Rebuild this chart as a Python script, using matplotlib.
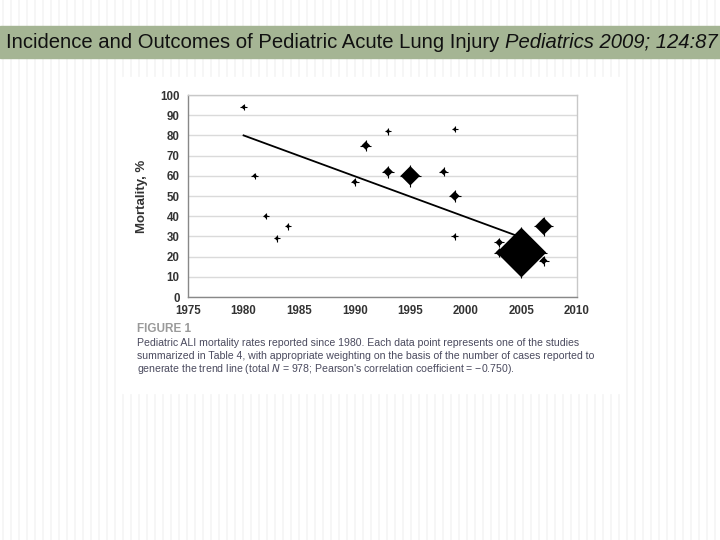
import numpy as np
import matplotlib
matplotlib.use("Agg")
import matplotlib.pyplot as plt

# study year, mortality (%) and estimated number of cases (marker weight)
years = [1980, 1981, 1982, 1983, 1984, 1990, 1991, 1993, 1993, 1995,
         1998, 1999, 1999, 1999, 2003, 2003, 2005, 2007, 2007]
mortality = [94, 60, 40, 29, 35, 57, 75, 82, 62, 60,
             62, 83, 50, 30, 27, 22, 22, 35, 18]
n_cases = [5, 5, 5, 5, 5, 8, 19, 5, 24, 97,
           11, 4, 24, 5, 15, 15, 635, 77, 15]

# weighted trend line
trend_x = [1980, 2004.5]
trend_y = [80, 30.5]

x_ticks = [1975, 1980, 1985, 1990, 1995, 2000, 2005, 2010]
y_ticks = [0, 10, 20, 30, 40, 50, 60, 70, 80, 90, 100]

title_main = "Incidence and Outcomes of Pediatric Acute Lung Injury "
title_ref = "Pediatrics 2009; 124:87"
caption = ["Pediatric ALI mortality rates reported since 1980. Each data point represents one of the studies",
           "summarized in Table 4, with appropriate weighting on the basis of the number of cases reported to",
           "generate the trend line (total $N$ = 978; Pearson's correlation coefficient = \u22120.750)."]

W, H = 720, 540
fig = plt.figure(figsize=(7.2, 5.4), dpi=100)
fig.patch.set_facecolor("white")

# slide background
bg = fig.add_axes([0, 0, 1, 1])
bg.set_xlim(0, W)
bg.set_ylim(H, 0)
bg.axis("off")
for xs in np.arange(3, W, 8):
    bg.plot([xs, xs], [0, H], color="#f5f5f5", lw=1.2, zorder=0)
bg.add_patch(plt.Rectangle((122, 77), 498, 316, color="white", zorder=1))
bg.add_patch(plt.Rectangle((0, 26), W, 32, color="#a5b594", zorder=2))

t1 = bg.text(6, 42, title_main, fontsize=14.55, family="Liberation Sans",
             va="center", ha="left", color="#111111", zorder=3)
bg.annotate(title_ref, xy=(1, 0), xycoords=t1, va="bottom", ha="left",
            fontsize=14.55, family="Liberation Sans", style="italic",
            color="#111111", zorder=3)

# caption
bg.text(137, 329, "FIGURE 1", fontsize=8.5, fontweight="bold",
        family="Liberation Sans", color="#9a9a9a", va="center", ha="left",
        zorder=3)
for i, line in enumerate(caption):
    bg.text(137, 343 + 13 * i, line, fontsize=7.6, family="Liberation Sans",
            color="#4a4a5e", va="center", ha="left", zorder=3)

# chart
ax = fig.add_axes([188 / W, 1 - 297 / H, (577 - 188) / W, (297 - 95) / H])
ax.set_xlim(1975, 2010)
ax.set_ylim(0, 100)
ax.set_xticks(x_ticks)
ax.set_yticks(y_ticks)
ax.yaxis.grid(True, color="#dadada", lw=1)
ax.set_axisbelow(True)
for side in ["top", "right"]:
    ax.spines[side].set_color("#c8c8c8")
for side in ["left", "bottom"]:
    ax.spines[side].set_color("#888888")
for sp in ax.spines.values():
    sp.set_linewidth(1)
ax.tick_params(length=0, pad=6, labelsize=8.3, colors="#333333")
for lab in ax.get_xticklabels() + ax.get_yticklabels():
    lab.set_fontweight("bold")
    lab.set_family("Liberation Sans")
ax.set_ylabel("Mortality, %", fontsize=9.5, fontweight="bold",
              family="Liberation Sans", color="#333333", labelpad=9)

ax.plot(trend_x, trend_y, color="black", lw=1.3, zorder=2)

diag_px = np.sqrt(np.array(n_cases) * 3.9)
ms = diag_px / 1.964
ax.scatter(years, mortality, s=ms ** 2, marker="D", color="black",
           lw=0, zorder=3, clip_on=False)
ax.scatter(years, mortality, s=(ms * 1.414 + 1.5) ** 2, marker="+",
           color="black", lw=0.8, zorder=3, clip_on=False)

fig.savefig("out.png", dpi=100)
